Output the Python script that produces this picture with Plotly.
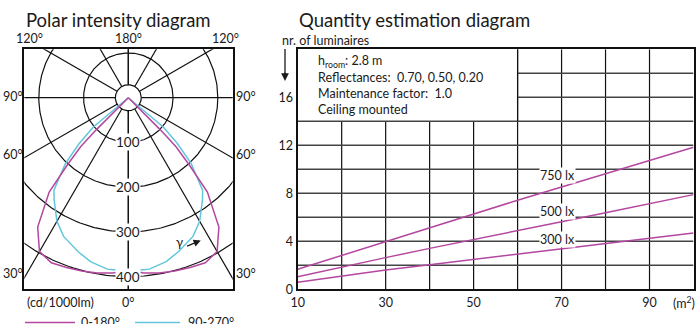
import numpy as np
import plotly.graph_objects as go

FONT = "Lato"
TXT = "#1a1a1a"
MAG = "#b4479f"
CYA = "#62c6dc"

# ---------------- data ----------------
# polar intensity (cd/1000lm) vs gamma (deg), symmetric planes
mag_gamma = [0, 5, 10, 15, 20, 25, 30, 35, 40, 42.2, 44.2, 45, 50]
mag_int = [385, 393, 398, 401, 404, 407, 397, 353, 275, 203, 153, 100, 0]
cya_gamma = [0, 5, 7, 10, 13, 18, 25, 30, 33, 36, 38.8, 40.7, 43.7, 47, 50, 52]
cya_int = [385, 386, 386, 381, 376, 362, 342, 319, 300, 282, 265, 238, 203, 150, 102, 0]
polar_rings = [100, 200, 300, 400]
polar_spokes = [0, 30, 60, 90, 120, 150, 180]

# quantity estimation
area = [10, 20, 30, 40, 50, 60, 70, 80, 90, 100]
n750 = [1.67, 2.83, 4.0, 5.15, 6.3, 7.42, 8.53, 9.62, 10.72, 11.83]
n500 = [1.05, 1.86, 2.64, 3.41, 4.17, 4.9, 5.63, 6.37, 7.13, 7.89]
n300 = [0.58, 1.1, 1.61, 2.05, 2.5, 2.95, 3.39, 3.82, 4.26, 4.69]
x_ticks = [10, 30, 50, 70, 90]
y_ticks = [0, 4, 8, 12, 16]
lux_labels = ["750 lx", "500 lx", "300 lx"]

W, H = 698, 324


def px(x):
    return x / W


def py(y):
    return 1 - y / H


def polar_curve(gam, inten):
    g = [-v for v in reversed(gam)] + list(gam[1:])
    r = list(reversed(inten)) + list(inten[1:])
    a = np.radians(g)
    r = np.array(r, float)
    return r * np.sin(a), -r * np.cos(a)


fig = go.Figure()

# polar grid: rings and spokes
t = np.linspace(0, 2 * np.pi, 361)
gx, gy = [], []
for R in [29] + polar_rings:
    gx += list(R * np.cos(t)) + [None]
    gy += list(R * np.sin(t)) + [None]
for g in polar_spokes:
    for s in (1, -1):
        a = np.radians(g) * s
        gx += [29 * np.sin(a), 900 * np.sin(a), None]
        gy += [-29 * np.cos(a), -900 * np.cos(a), None]
fig.add_trace(go.Scatter(x=gx, y=gy, mode="lines", line=dict(color="#111", width=1.2),
                         hoverinfo="skip", showlegend=False))

mx, my = polar_curve(mag_gamma, mag_int)
cx, cy = polar_curve(cya_gamma, cya_int)
fig.add_trace(go.Scatter(x=cx, y=cy, mode="lines", line=dict(color=CYA, width=1.5), showlegend=False))
fig.add_trace(go.Scatter(x=mx, y=my, mode="lines", line=dict(color=MAG, width=1.5), showlegend=False))

# quantity lines
for yv in (n750, n500, n300):
    fig.add_trace(go.Scatter(x=area, y=yv, mode="lines", line=dict(color=MAG, width=1.5),
                             xaxis="x2", yaxis="y2", showlegend=False))

shapes = []
GLV = dict(color="#111", width=1.2)
GLH = dict(color="#444", width=1.5)
for xv in range(20, 100, 10):
    top = 14 if xv < 60 else 20
    shapes.append(dict(type="line", xref="x2", yref="y2", x0=xv, x1=xv, y0=0, y1=top, line=GLV, layer="below"))
for yv in range(2, 20, 2):
    x0 = 10 if yv <= 14 else 60
    shapes.append(dict(type="line", xref="x2", yref="y2", x0=x0, x1=100, y0=yv, y1=yv, line=GLH, layer="below"))
shapes.append(dict(type="line", xref="x2", yref="y2", x0=60, x1=60, y0=14, y1=20, line=GLV, layer="below"))
# legend lines
shapes.append(dict(type="line", xref="paper", yref="paper", x0=px(25), x1=px(75), y0=py(322.5), y1=py(322.5),
                   line=dict(color=MAG, width=1.5)))
shapes.append(dict(type="line", xref="paper", yref="paper", x0=px(135), x1=px(180), y0=py(322.5), y1=py(322.5),
                   line=dict(color=CYA, width=1.5)))
# arrow shaft for nr. of luminaires
shapes.append(dict(type="line", xref="paper", yref="paper", x0=px(285), x1=px(285), y0=py(49), y1=py(76),
                   line=dict(color=TXT, width=1.3)))

ann = []


def T(text, x, y, size=13, xa="center", ya="middle", **kw):
    ann.append(dict(text=text, x=px(x), y=py(y), xref="paper", yref="paper", showarrow=False,
                    xanchor=xa, yanchor=ya, font=dict(family=FONT, size=size, color=TXT), **kw))


T("Polar intensity diagram", 24, 19.5, size=18.5, xa="left")
T("Quantity estimation diagram", 297, 19.5, size=18.5, xa="left")
T("120°", 29, 38.5, size=12.5)
T("180°", 128, 38.5, size=12.5)
T("120°", 225, 38.5, size=12.5)
for lab, yy in (("90°", 96), ("60°", 154), ("30°", 273)):
    T(lab, 13, yy, size=12.5)
    T(lab, 246, yy, size=12.5)
T("(cd/1000lm)", 25, 302.5, size=12.5, xa="left")
T("0°", 128, 302, size=12.5)
T("0-180°", 79, 322, size=12.5, xa="left")
T("90-270°", 186, 322, size=12.5, xa="left")
T("nr. of luminaires", 280, 40, size=12.5, xa="left")
T("(m<sup>2</sup>)", 684, 302, size=12.5)
T("h<sub>room</sub>: 2.8 m", 316, 62, size=12.5, xa="left")
T("Reflectances:  0.70, 0.50, 0.20", 316, 78, size=12.5, xa="left")
T("Maintenance factor:  1.0", 316, 94, size=12.5, xa="left")
T("Ceiling mounted", 316, 110, size=12.5, xa="left")

# ring labels on polar
for R in polar_rings:
    ann.append(dict(text=str(R), x=0, y=-R, xref="x", yref="y", showarrow=False, bgcolor="white",
                    borderpad=0, font=dict(family=FONT, size=13.5, color=TXT)))
# gamma arrow
ann.append(dict(text="γ", x=114, y=-323, xref="x", yref="y", showarrow=False,
                font=dict(family=FONT, size=13, color=TXT)))
ann.append(dict(text="", x=162, y=-319, ax=128, ay=-333, xref="x", yref="y", axref="x", ayref="y",
                showarrow=True, arrowhead=2, arrowsize=1.2, arrowwidth=1.2, arrowcolor=TXT))
ann.append(dict(text="", x=px(285), y=py(81), ax=0, ay=-10, xref="paper", yref="paper",
                axref="pixel", ayref="pixel", showarrow=True, arrowhead=2, arrowsize=1.2,
                arrowwidth=1.3, arrowcolor=TXT))

# lux labels
for lab, yv in zip(lux_labels, (9.47, 6.47, 4.19)):
    ann.append(dict(text=lab, x=69.05, y=yv, xref="x2", yref="y2", showarrow=False, bgcolor="white",
                    borderpad=0, font=dict(family=FONT, size=12.5, color=TXT)))

ax_common = dict(showgrid=False, zeroline=False, showline=True, mirror=True, linecolor="#111",
                 linewidth=2.4, ticks="", automargin=False)

fig.update_layout(
    width=W, height=H, autosize=False,
    margin=dict(l=0, r=0, t=0, b=0, pad=0),
    paper_bgcolor="white", plot_bgcolor="white",
    showlegend=False,
    xaxis=dict(domain=[px(24.3), px(232.7)], range=[-232.4, 233.3], showticklabels=False, **ax_common),
    yaxis=dict(domain=[py(289), py(49.3)], range=[-427.5, 108.2], showticklabels=False, **ax_common),
    xaxis2=dict(domain=[px(297.7), px(693.5)], range=[10, 100], tickvals=x_ticks, anchor="y2",
                tickfont=dict(family=FONT, size=12.5, color=TXT), **ax_common),
    yaxis2=dict(domain=[py(289.3), py(49.3)], range=[0, 20], tickvals=y_ticks, anchor="x2",
                tickfont=dict(family=FONT, size=12.5, color=TXT), **ax_common),
    shapes=shapes,
    annotations=ann,
)

fig.write_html("out.html", config={"displayModeBar": False},
               post_script="document.body.style.margin='0px';document.body.style.overflow='hidden';")
